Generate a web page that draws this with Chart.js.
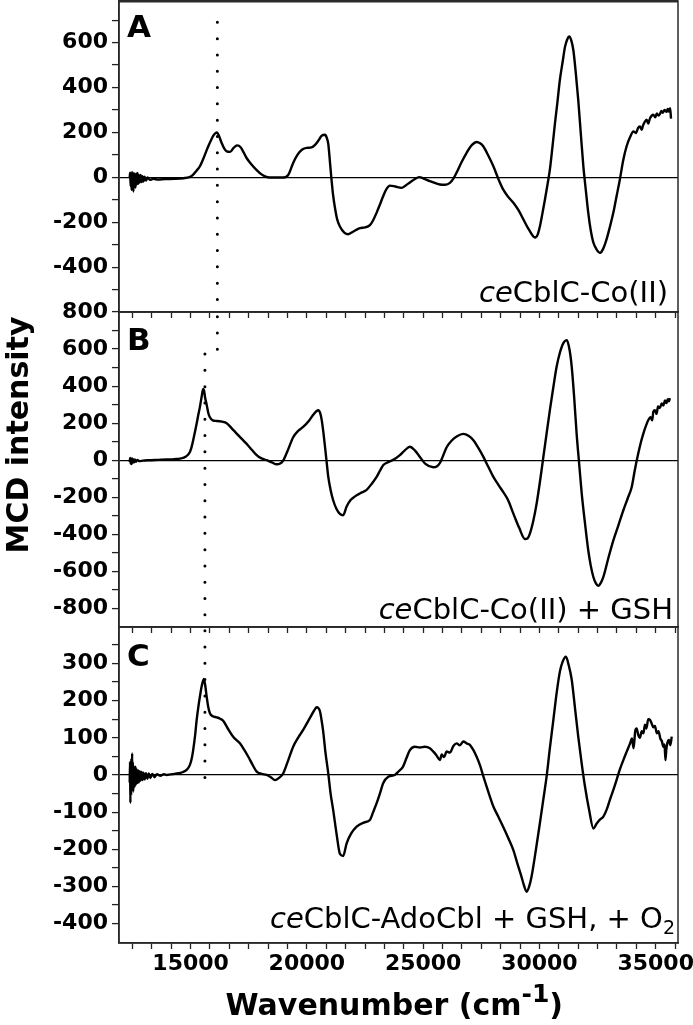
<!DOCTYPE html>
<html>
<head>
<meta charset="utf-8">
<script src="https://cdn.jsdelivr.net/npm/chart.js@4.4.0/dist/chart.umd.min.js"></script>
<style>
  html, body { margin: 0; padding: 0; background: #fff; }
  #wrap { position: relative; width: 693px; height: 1025px; overflow: hidden; }
  canvas { position: absolute; left: 0; }
</style>
</head>
<body>
<div id="wrap">
  <canvas id="panelA" width="693" height="330" style="top:0px"></canvas>
  <canvas id="panelB" width="693" height="349" style="top:296px"></canvas>
  <canvas id="panelC" width="693" height="414" style="top:611px"></canvas>
</div>
<script>
// wavenumber axis
const xMin = 11920, xMax = 35960;
const xLabels = [15000, 20000, 25000, 30000, 35000];

// panel A: ceCblC-Co(II)
const wnA = [
  12380,12400,12420,12440,12460,12480,12500,12520,12540,12560,
  12580,12600,12630,12660,12690,12720,12750,12780,12810,12850,
  12890,12930,12970,13020,13080,13150,13250,13400,13600,13900,
  14300,14700,14950,15100,15250,15400,15550,15700,15850,15970,
  16060,16130,16200,16330,16450,16550,16700,16850,17000,17150,
  17400,17600,17840,18050,18200,18400,18700,19000,19200,19410,
  19600,19800,19990,20200,20350,20500,20630,20780,20860,20920,
  21000,21060,21130,21200,21300,21420,21620,21780,22000,22280,
  22500,22710,22850,23000,23150,23280,23420,23570,23800,24070,
  24250,24430,24630,24830,25050,25290,25500,25720,25950,26150,
  26300,26440,26650,26870,27100,27300,27450,27590,27800,28020,
  28250,28440,28650,28880,29100,29310,29550,29810,29920,30020,
  30120,30240,30350,30450,30560,30670,30780,30880,31000,31100,
  31200,31280,31370,31460,31560,31670,31780,31890,32000,32100,
  32200,32320,32450,32610,32750,32890,33030,33180,33320,33460,
  33600,33750,33900,34040,34150,34250,34320,34400,34450,34530,
  34610,34680,34750,34830,34900,34980,35050,35120,35180,35250,
  35300,35380,35470,35520,35560,35620,35660
];
const mcdA = [
  0,22,-38,18,-55,25,-30,12,-62,20,
  -25,15,-45,18,-30,20,-28,10,-22,12,
  -20,6,-18,4,-14,0,-10,-6,-9,-7,
  -6,-3,2,12,30,50,85,124,160,185,
  196,200,190,155,128,116,114,132,143,135,
  88,60,33,14,5,0,0,0,12,65,
  102,125,132,134,145,165,185,190,175,150,
  60,-10,-80,-130,-185,-218,-246,-252,-240,-225,
  -222,-212,-190,-156,-118,-83,-52,-36,-40,-46,
  -35,-22,-8,2,-6,-16,-24,-31,-32,-24,
  -5,22,68,110,145,158,152,138,98,50,
  -10,-53,-85,-112,-145,-186,-232,-267,-255,-218,
  -165,-97,-30,35,135,242,340,434,515,581,
  615,627,610,566,470,345,195,50,-60,-156,
  -230,-289,-318,-335,-315,-274,-220,-156,-82,-9,
  75,139,180,205,198,222,227,212,230,248,
  257,240,262,275,279,268,285,276,282,296,
  288,300,292,305,293,308,262
];

// panel B: ceCblC-Co(II) + GSH
const wnB = [
  12380,12400,12420,12440,12460,12480,12500,12530,12560,12600,
  12650,12700,12800,12950,13200,13600,14000,14300,14540,14800,
  14970,15050,15110,15190,15260,15330,15400,15470,15540,15580,
  15620,15690,15760,15830,15950,16120,16350,16550,16750,16980,
  17200,17410,17640,17840,18050,18270,18500,18700,18850,18980,
  19200,19410,19620,19840,20100,20300,20420,20490,20570,20640,
  20710,20780,20850,20920,21020,21130,21280,21420,21560,21710,
  21880,22070,22300,22570,22800,23000,23150,23280,23500,23710,
  24000,24200,24430,24650,24860,25100,25430,25600,25720,25860,
  26010,26220,26440,26730,26950,27160,27380,27590,27800,28020,
  28230,28440,28650,28880,29130,29380,29500,29590,29740,29880,
  30030,30170,30310,30450,30600,30740,30880,31030,31180,31290,
  31390,31500,31600,31710,31820,31960,32100,32210,32320,32430,
  32530,32640,32750,32960,33180,33400,33610,33800,33970,34100,
  34250,34370,34470,34580,34680,34780,34850,34900,34970,35040,
  35100,35180,35260,35330,35400,35460,35520,35570,35610
];
const mcdB = [
  -10,12,-18,8,-20,10,-14,6,-12,4,
  -8,2,-5,-2,0,2,4,6,9,20,
  45,75,108,155,198,245,288,340,385,375,
  340,300,255,232,215,212,208,200,175,144,
  115,88,55,28,10,0,-12,-22,-18,-2,
  60,124,158,180,215,250,266,270,255,215,
  150,72,-10,-90,-160,-216,-265,-290,-297,-250,
  -215,-195,-178,-160,-125,-90,-55,-27,-10,2,
  28,52,73,52,18,-20,-38,-32,-15,25,
  70,105,128,142,132,108,65,18,-35,-90,
  -132,-171,-215,-288,-365,-425,-420,-396,-325,-234,
  -110,18,145,270,395,504,580,632,648,600,
  504,330,144,-20,-180,-340,-486,-570,-630,-665,
  -678,-662,-630,-530,-432,-350,-270,-205,-144,-55,
  36,100,144,185,216,232,215,262,270,250,
  290,282,306,295,322,308,330,318,335
];

// panel C: ceCblC-AdoCbl + GSH, + O2
const wnC = [
  12380,12395,12410,12425,12440,12455,12470,12485,12500,12515,
  12530,12550,12570,12590,12610,12630,12660,12690,12720,12750,
  12780,12810,12850,12890,12930,12970,13020,13080,13140,13200,
  13270,13350,13450,13550,13700,13850,13970,14300,14680,14850,
  14970,15050,15110,15190,15260,15330,15400,15480,15570,15630,
  15690,15760,15830,15950,16120,16250,16400,16600,16830,17120,
  17300,17480,17660,17840,18050,18270,18450,18630,18800,18980,
  19200,19410,19620,19840,20100,20300,20420,20490,20560,20630,
  20700,20800,20920,21020,21130,21280,21420,21560,21710,21900,
  22140,22450,22710,22850,23000,23150,23280,23500,23780,23950,
  24130,24280,24430,24640,24860,25070,25290,25450,25580,25720,
  25800,25900,26010,26150,26300,26440,26580,26730,26870,27010,
  27150,27300,27450,27590,27800,28020,28230,28440,28650,28880,
  29060,29230,29340,29450,29560,29660,29840,30020,30170,30310,
  30450,30600,30740,30880,31000,31140,31260,31390,31530,31670,
  31820,31960,32140,32320,32450,32600,32750,32900,33030,33180,
  33320,33460,33610,33750,33900,33980,34050,34120,34180,34250,
  34320,34400,34470,34540,34600,34680,34760,34830,34900,34970,
  35050,35120,35200,35270,35330,35380,35420,35460,35510,35570,
  35630,35690
];
const mcdC = [
  -20,35,-75,30,-55,45,-40,58,-30,35,
  -45,25,-35,20,-30,22,-25,15,-22,12,
  -20,10,-15,8,-14,6,-12,5,-10,4,
  -8,3,-6,2,-2,2,0,3,8,15,
  27,45,67,105,148,182,211,240,258,240,
  211,182,166,158,155,152,146,125,103,85,
  68,49,28,9,3,0,-6,-14,-8,4,
  40,76,100,121,150,172,182,180,172,148,
  118,60,4,-50,-94,-160,-212,-218,-184,-158,
  -139,-128,-121,-100,-76,-48,-22,-5,0,10,
  22,45,67,76,74,76,72,62,52,40,
  55,48,63,60,78,85,80,90,85,81,
  68,49,25,-4,-45,-85,-112,-139,-168,-202,
  -240,-274,-298,-314,-300,-274,-205,-130,-65,-4,
  72,148,220,278,305,318,295,256,180,103,
  30,-31,-95,-144,-132,-120,-112,-92,-67,-40,
  -13,15,40,62,85,98,72,118,125,108,
  100,118,112,135,125,150,148,138,128,132,
  112,118,98,90,76,82,40,70,88,94,
  80,103
];

// dotted guide lines: [wavenumber, from, to] per panel
const guideA = [[16150, 690, -600]];
const guideB = [[16150, 775, 595], [15615, 573, -900]];
const guideC = [[15615, 388, -48]];

// y ticks (every tick mark) and which ones carry a label
const yTicksA = [-500,-400,-300,-200,-100,0,100,200,300,400,500,600,700];
const yLabelsA = [-400,-200,0,200,400,600];
const yTicksB = [-800,-700,-600,-500,-400,-300,-200,-100,0,100,200,300,400,500,600,700,800];
const yLabelsB = [-800,-600,-400,-200,0,200,400,600,800];
const yTicksC = [-400,-350,-300,-250,-200,-150,-100,-50,0,50,100,150,200,250,300,350];
const yLabelsC = [-400,-300,-200,-100,0,100,200,300];

// 6 tick marks for each 5000 step
const xTicks = [];
for (let v = 12500; v <= xMax; v += 5000 / 6) xTicks.push(v);

const tickFont = { family: 'DejaVu Sans', weight: 'bold', size: 22 };

function pts(xs, ys) {
  return xs.map((x, i) => ({ x: x, y: ys[i] }));
}

function isMajorX(v) {
  return xLabels.some(m => Math.abs(m - v) < 1);
}

function drawParts(ctx, parts, right, base) {
  let total = 0;
  parts.forEach(p => { ctx.font = p.font; total += ctx.measureText(p.text).width; });
  let x = right - total;
  parts.forEach(p => {
    ctx.font = p.font;
    ctx.fillText(p.text, x, base + (p.dy || 0));
    x += ctx.measureText(p.text).width;
  });
}

function decor(cfg) {
  return {
    id: 'decor',
    afterDraw(chart) {
      const { ctx, chartArea: a } = chart;
      ctx.save();
      ctx.strokeStyle = '#2a2a2a';
      ctx.lineWidth = 1.5;
      ctx.strokeRect(a.left, a.top, a.right - a.left, a.bottom - a.top);
      if (cfg.thickTop) {
        ctx.lineWidth = 3;
        ctx.beginPath(); ctx.moveTo(a.left, a.top); ctx.lineTo(a.right, a.top); ctx.stroke();
      }
      ctx.fillStyle = '#000';
      ctx.textAlign = 'left';
      ctx.textBaseline = 'alphabetic';
      ctx.font = 'bold 31px "DejaVu Sans"';
      ctx.fillText(cfg.letter, a.left + 8, a.top + cfg.letterDy);
      drawParts(ctx, cfg.caption, a.right - cfg.capRight, a.bottom - cfg.capUp);
      if (cfg.yTitle) {
        ctx.save();
        ctx.translate(28, 139);
        ctx.rotate(-Math.PI / 2);
        ctx.textAlign = 'center';
        ctx.font = 'bold 30px "DejaVu Sans"';
        ctx.fillText('MCD intensity', 0, 0);
        ctx.restore();
      }
      if (cfg.xTitle) {
        drawParts(ctx, [
          { text: 'Wavenumber (cm', font: 'bold 30px "DejaVu Sans"' },
          { text: '-1', font: 'bold 25px "DejaVu Sans"', dy: -13 },
          { text: ')', font: 'bold 30px "DejaVu Sans"' }
        ], 400 + 163, 404);
      }
      ctx.restore();
    }
  };
}

const capFont = '29px "DejaVu Sans"';
const capItal = 'italic 29px "DejaVu Sans"';

function makePanel(id, p) {
  const sets = [{
    data: pts(p.xs, p.ys),
    borderColor: '#000',
    borderWidth: 2.4,
    pointRadius: 0,
    cubicInterpolationMode: 'monotone'
  }];
  p.guides.forEach(g => sets.push({
    data: [{ x: g[0], y: g[1] }, { x: g[0], y: g[2] }],
    borderColor: '#000',
    borderWidth: 3,
    borderDash: [0, 16.3],
    borderCapStyle: 'round',
    pointRadius: 0
  }));

  new Chart(document.getElementById(id), {
    type: 'line',
    data: { datasets: sets },
    options: {
      responsive: false,
      animation: false,
      devicePixelRatio: 1,
      layout: { padding: { top: p.padTop, right: 15, left: 0, bottom: 0 } },
      plugins: { legend: { display: false }, tooltip: { enabled: false } },
      scales: {
        x: {
          type: 'linear',
          min: xMin,
          max: xMax,
          afterBuildTicks: s => { s.ticks = xTicks.map(v => ({ value: v })); },
          afterFit: s => { s.height = p.xHeight; s.paddingLeft = 0; s.paddingRight = 0; },
          ticks: {
            display: p.showX,
            autoSkip: false,
            maxRotation: 0,
            padding: 2,
            font: tickFont,
            color: '#000',
            callback: v => isMajorX(v) ? String(Math.round(v)) : ''
          },
          grid: { drawOnChartArea: false, tickLength: 6, tickColor: '#222', tickWidth: 1.3 },
          border: { color: '#222', width: 1.5 }
        },
        y: {
          min: p.yMin,
          max: p.yMax,
          afterBuildTicks: s => { s.ticks = p.yTicks.map(v => ({ value: v })); },
          afterFit: s => { s.width = 119; s.paddingTop = 0; s.paddingBottom = 0; },
          ticks: {
            autoSkip: false,
            padding: 4,
            font: tickFont,
            color: '#000',
            callback: v => p.yLabels.includes(v) ? String(v) : ''
          },
          grid: {
            drawOnChartArea: true,
            color: c => (c.tick && c.tick.value === 0) ? '#000' : 'rgba(0,0,0,0)',
            lineWidth: 1.2,
            tickLength: 7,
            tickColor: '#222',
            tickWidth: 1.3
          },
          border: { color: '#222', width: 1.5 }
        }
      }
    },
    plugins: [decor(p.decor)]
  });
}

makePanel('panelA', {
  xs: wnA, ys: mcdA, guides: guideA,
  yMin: -598, yMax: 785, yTicks: yTicksA, yLabels: yLabelsA,
  padTop: 1, xHeight: 18, showX: false,
  decor: {
    letter: 'A', letterDy: 36, thickTop: true, capRight: 10, capUp: 10,
    caption: [{ text: 'ce', font: capItal }, { text: 'CblC-Co(II)', font: capFont }]
  }
});

makePanel('panelB', {
  xs: wnB, ys: mcdB, guides: guideB,
  yMin: -900, yMax: 800, yTicks: yTicksB, yLabels: yLabelsB,
  padTop: 16, xHeight: 18, showX: false,
  decor: {
    letter: 'B', letterDy: 38, capRight: 5, capUp: 8, yTitle: true,
    caption: [{ text: 'ce', font: capItal }, { text: 'CblC-Co(II) + GSH', font: capFont }]
  }
});

makePanel('panelC', {
  xs: wnC, ys: mcdC, guides: guideC,
  yMin: -452, yMax: 398, yTicks: yTicksC, yLabels: yLabelsC,
  padTop: 16, xHeight: 82, showX: true,
  decor: {
    letter: 'C', letterDy: 39, capRight: 3, capUp: 15, xTitle: true,
    caption: [
      { text: 'ce', font: capItal },
      { text: 'CblC-AdoCbl + GSH, + O', font: capFont },
      { text: '2', font: '19px "DejaVu Sans"', dy: 6 }
    ]
  }
});
</script>
</body>
</html>
